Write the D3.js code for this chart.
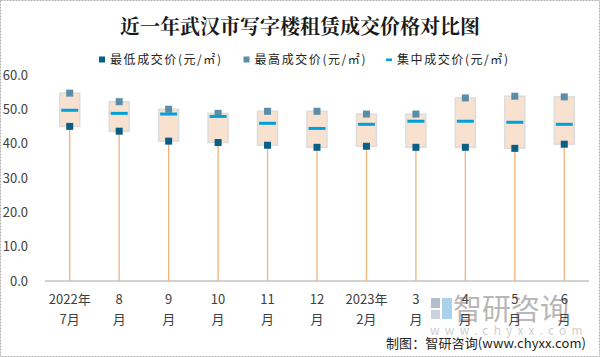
<!DOCTYPE html>
<html><head><meta charset="utf-8">
<script src="https://cdn.jsdelivr.net/npm/d3@7"></script>
<style>body{margin:0;background:#fff}svg{display:block}</style>
</head><body>
<script>
const categories = [["2022年","7月"],["8","月"],["9","月"],["10","月"],["11","月"],["12","月"],["2023年","2月"],["3","月"],["4","月"],["5","月"],["6","月"]];
const minVals = [45.1, 43.7, 40.8, 40.4, 39.6, 39.0, 39.3, 39.0, 39.0, 38.7, 39.9];
const maxVals = [54.8, 52.3, 50.1, 48.9, 49.5, 49.5, 48.7, 48.7, 53.4, 53.9, 53.7];
const midVals = [49.8, 48.9, 48.7, 48.0, 46.0, 44.5, 45.7, 46.6, 46.6, 46.3, 45.7];
const yTicks = [0, 10, 20, 30, 40, 50, 60];
const seriesNames = ["最低成交价(元/㎡)", "最高成交价(元/㎡)", "集中成交价(元/㎡)"];

const W = 600, H = 357;
const font = "'Noto Sans CJK SC', 'Microsoft YaHei', sans-serif";
const svg = d3.select("body").append("svg").attr("width", W).attr("height", H);
svg.append("rect").attr("x",0.5).attr("y",0.5).attr("width",W-1).attr("height",H-1)
  .attr("fill","#fff").attr("stroke","#b0b0b0").attr("stroke-dasharray","2,1");

const x = d3.scaleBand().domain(d3.range(categories.length)).range([45, 589]);
const y = d3.scaleLinear().domain([0, 60]).range([281, 75.3]);

// watermark (behind chart)
const wm = svg.append("g").attr("opacity", 0.75);
wm.append("rect").attr("x", 431).attr("y", 298).attr("width", 9).attr("height", 10).attr("fill", "#9aa8bd");
wm.append("rect").attr("x", 442).attr("y", 298).attr("width", 10).attr("height", 21).attr("fill", "#8fc3e6");
wm.append("rect").attr("x", 431).attr("y", 310).attr("width", 9).attr("height", 9).attr("fill", "#b9c4d3");
wm.append("text").attr("x", 453).attr("y", 320).attr("font-family", font).attr("font-size", 29)
  .attr("fill", "#a0a0a0").text("智研咨询");
wm.append("text").attr("x", 430).attr("y", 335).attr("font-family", font).attr("font-size", 12)
  .attr("letter-spacing", 5.2).attr("fill", "#c0c0c0").text("www.chyxx.com");

// title
svg.append("text").attr("x", 300).attr("y", 34).attr("text-anchor","middle")
  .attr("font-family", "'Noto Serif CJK SC', 'Noto Sans CJK SC', serif").attr("font-weight","bold")
  .attr("font-size", 20).attr("fill","#1a1a1a").text("近一年武汉市写字楼租赁成交价格对比图");

// legend
const legX = [99, 243.5, 386];
const legColors = ["#0a5f86", "#5a8ea8", "#00a0dc"];
seriesNames.forEach((n, i) => {
  if (i < 2) svg.append("rect").attr("x", legX[i]).attr("y", 56.5).attr("width", 6).attr("height", 6).attr("fill", legColors[i]);
  else svg.append("rect").attr("x", legX[i]).attr("y", 58.5).attr("width", 6).attr("height", 2.5).attr("fill", legColors[i]);
  svg.append("text").attr("x", legX[i] + 11).attr("y", 64).attr("font-family", font)
    .attr("font-size", 12).attr("fill", "#222")
    .attr("textLength", 111).attr("lengthAdjust", "spacing").text(n);
});

// y axis labels
yTicks.forEach(t => {
  svg.append("text").attr("x", 28).attr("y", y(t) + 4.5).attr("text-anchor","end")
    .attr("font-family", font).attr("font-size", 13).attr("fill", "#404040").text(t.toFixed(1));
});

// baseline
svg.append("line").attr("x1", 45).attr("x2", 589).attr("y1", y(0)).attr("y2", y(0))
  .attr("stroke", "#a6a6a6").attr("stroke-width", 1);

const g = svg.append("g");
categories.forEach((c, i) => {
  const cx = x(i) + x.bandwidth() / 2;
  g.append("line").attr("x1", cx).attr("x2", cx).attr("y1", y(minVals[i])).attr("y2", y(0))
    .attr("stroke", "#f1b27c").attr("stroke-width", 1.3);
  g.append("rect").attr("x", cx - 10).attr("y", y(maxVals[i])).attr("width", 20)
    .attr("height", y(minVals[i]) - y(maxVals[i]))
    .attr("fill", "#f8e2cf").attr("stroke", "#dcdcdc").attr("stroke-width", 1.5);
  g.append("rect").attr("x", cx - 3.5).attr("y", y(maxVals[i]) - 3.5).attr("width", 7).attr("height", 7).attr("fill", legColors[1]);
  g.append("rect").attr("x", cx - 3.5).attr("y", y(minVals[i]) - 3.5).attr("width", 7).attr("height", 7).attr("fill", legColors[0]);
  g.append("rect").attr("x", cx - 8.5).attr("y", y(midVals[i]) - 1.5).attr("width", 17).attr("height", 3).attr("fill", legColors[2]);
  const t = svg.append("text").attr("text-anchor","middle").attr("font-family", font)
    .attr("font-size", 13).attr("fill", "#404040");
  t.append("tspan").attr("x", cx).attr("y", 304).text(c[0]);
  t.append("tspan").attr("x", cx).attr("y", 324).text(c[1]);
});

// source
svg.append("text").attr("x", 386).attr("y", 348).attr("font-family", font)
  .attr("font-size", 13).attr("fill", "#222")
  .attr("textLength", 200).attr("lengthAdjust", "spacing").text("制图：智研咨询(www.chyxx.com)");
</script>
</body></html>
